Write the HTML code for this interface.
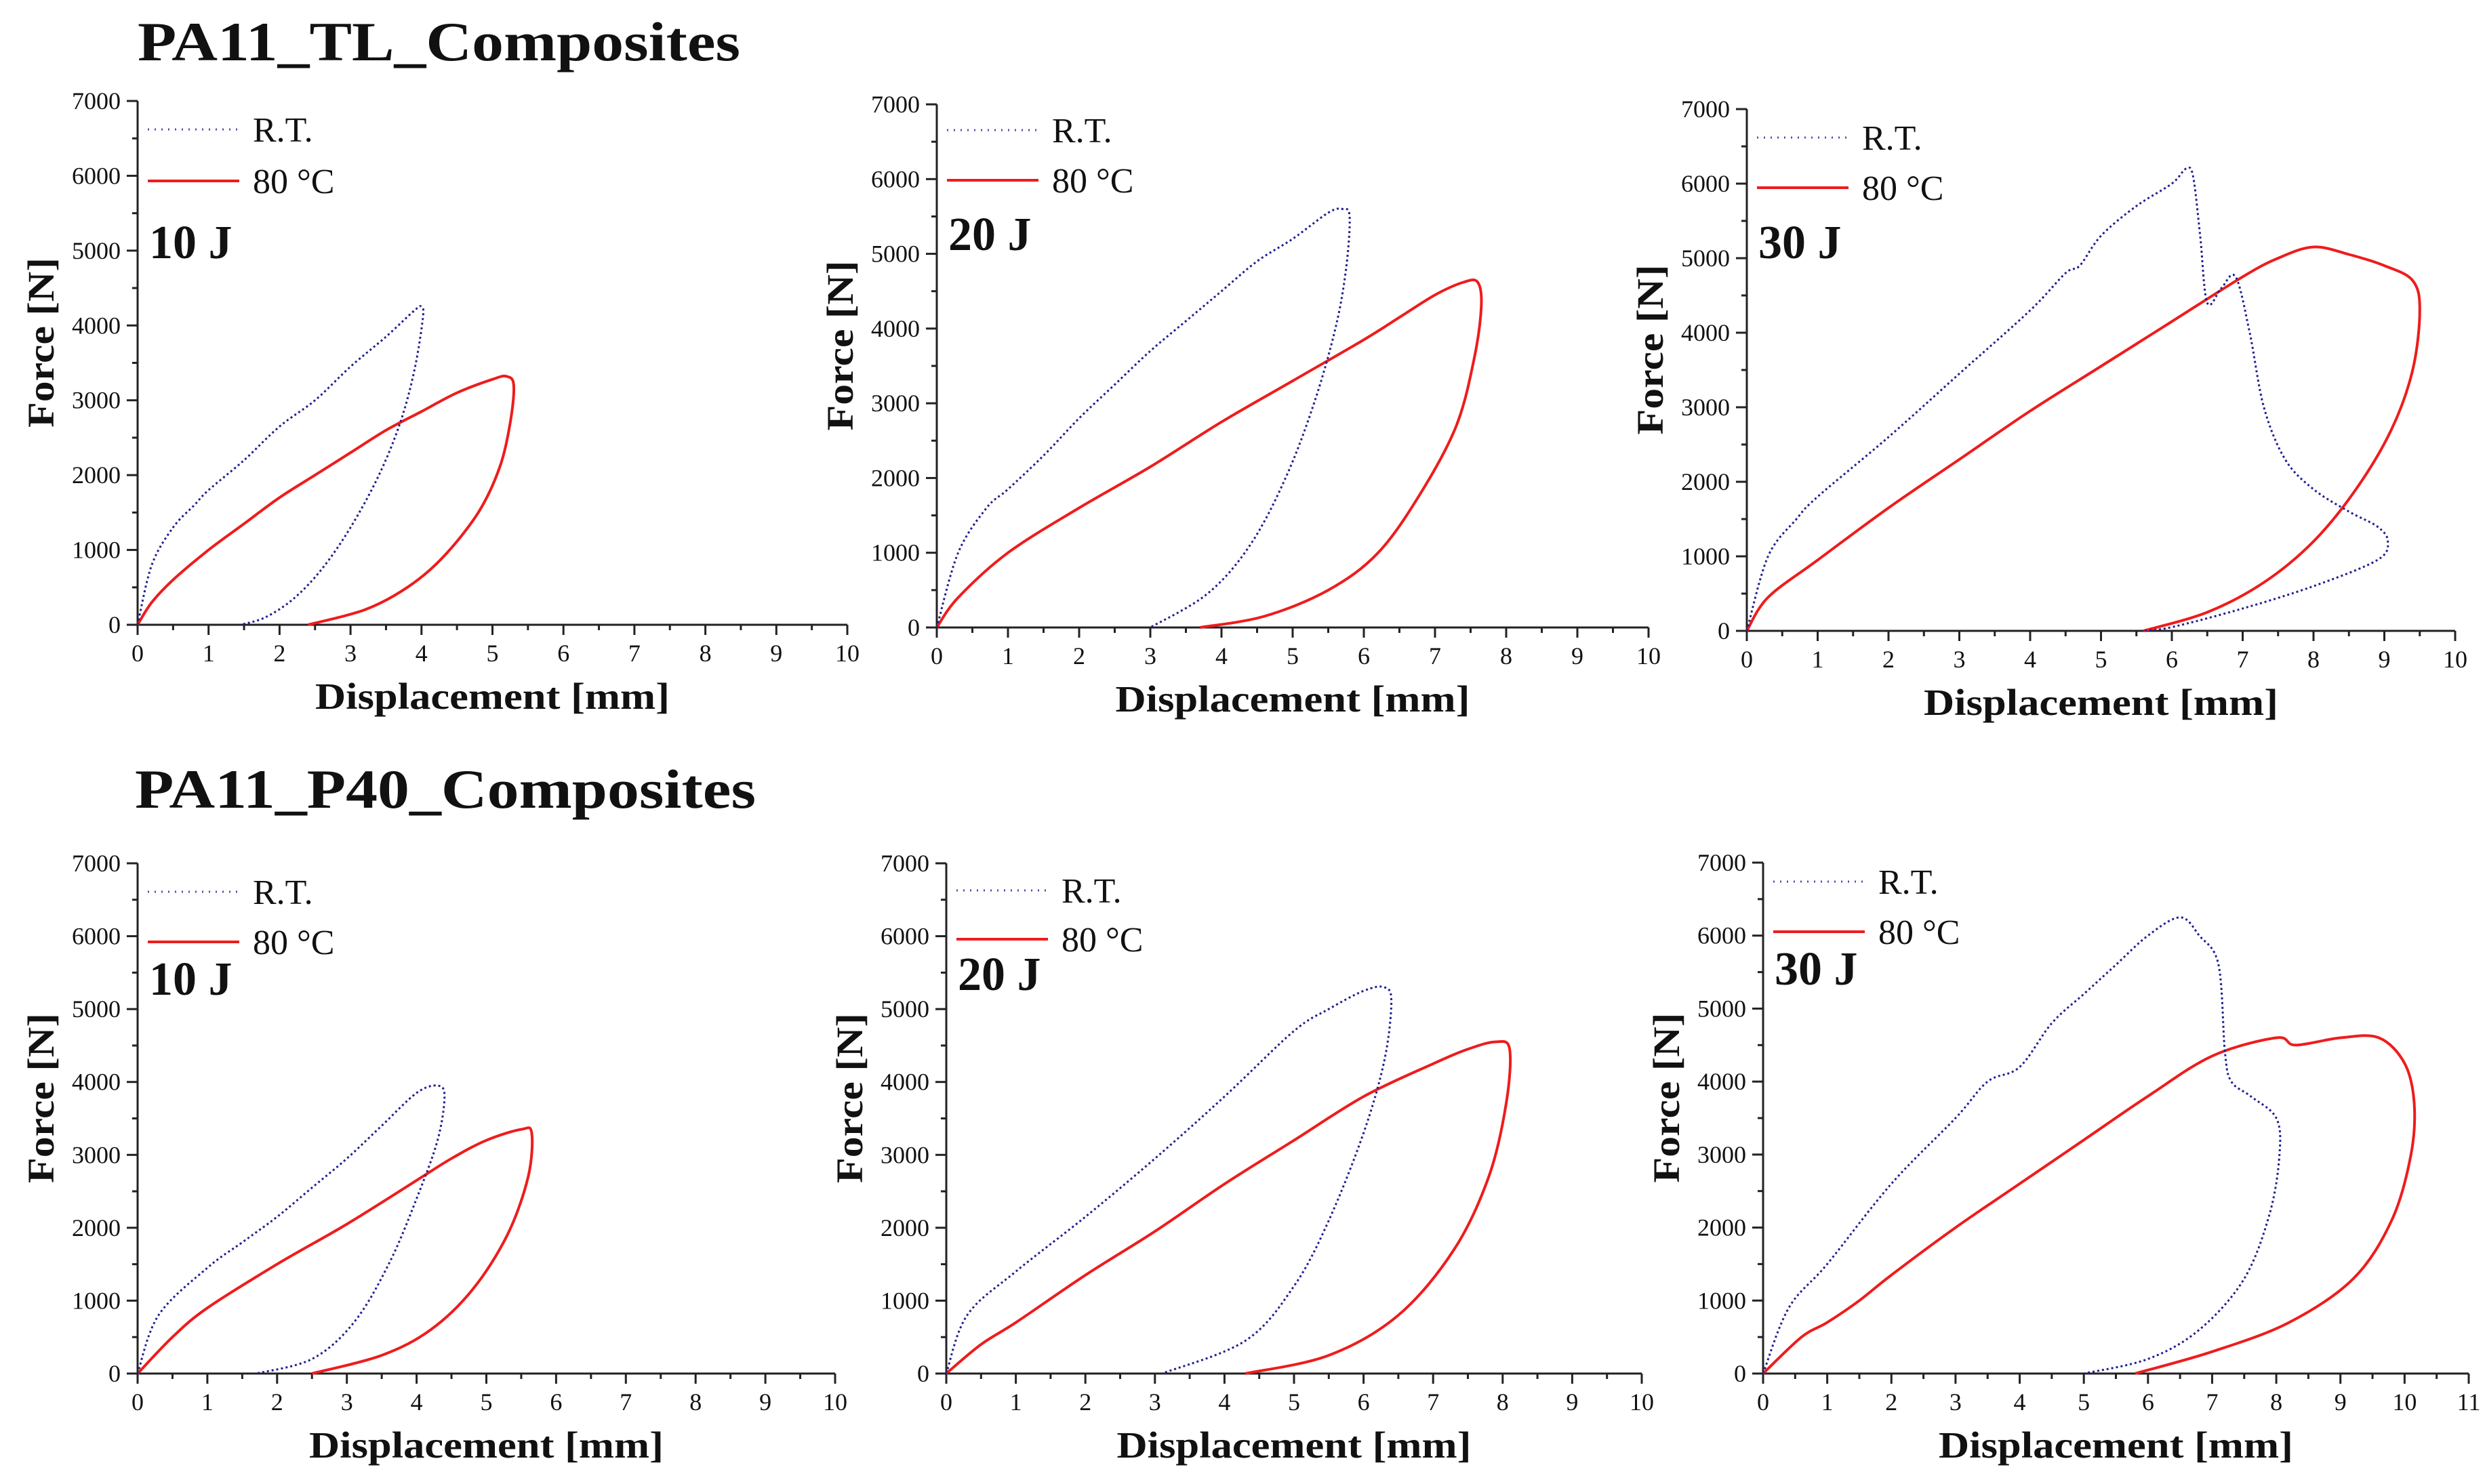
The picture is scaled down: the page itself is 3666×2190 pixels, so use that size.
<!DOCTYPE html>
<html><head><meta charset="utf-8"><style>
html,body{margin:0;padding:0;background:#fff;}
svg{display:block;}
text{font-family:"Liberation Serif",serif;fill:#111;}
</style></head><body>
<svg id="fig" width="3666" height="2190" viewBox="0 0 3666 2190" xmlns="http://www.w3.org/2000/svg">
<text x="203" y="89" font-size="82" font-weight="bold" textLength="889" lengthAdjust="spacingAndGlyphs">PA11_TL_Composites</text>
<text x="199" y="1192" font-size="82" font-weight="bold" textLength="916" lengthAdjust="spacingAndGlyphs">PA11_P40_Composites</text>
</svg>
<script>
// ---- data ----
const panelEnergies = ["10 J","20 J","30 J","10 J","20 J","30 J"];
const xMaxes = [10,10,10,10,10,11];
const yTicks = [0,1000,2000,3000,4000,5000,6000,7000];
const rtX1 = [0,0.2,0.5,0.8,1,1.5,2,2.5,3,3.5,3.9,4.0,4.02,3.9,3.7,3.4,3.0,2.6,2.2,1.8,1.45];
const rtY1 = [0,800,1300,1600,1800,2200,2650,3000,3450,3850,4200,4250,4100,3400,2700,2000,1300,750,350,100,0];
const hotX1 = [0,0.2,0.5,1,1.5,2,2.5,3,3.5,4,4.5,5,5.2,5.3,5.25,5.1,4.8,4.3,3.8,3.2,2.4];
const hotY1 = [0,300,600,1000,1350,1700,2000,2300,2600,2850,3100,3280,3320,3200,2700,2100,1500,900,500,200,0];
const rtX2 = [0,0.3,0.7,1,1.5,2,2.5,3,3.5,4,4.5,5,5.5,5.7,5.8,5.75,5.6,5.3,4.9,4.4,3.8,3];
const rtY2 = [0,1000,1600,1850,2300,2800,3250,3700,4100,4500,4900,5200,5550,5600,5500,4800,4000,3000,2000,1100,450,0];
const hotX2 = [0,0.3,1,2,3,4,5,6,6.5,7,7.4,7.6,7.65,7.55,7.3,6.8,6.2,5.5,4.6,3.7];
const hotY2 = [0,400,1000,1600,2150,2750,3300,3850,4150,4450,4620,4620,4300,3600,2700,1800,1000,500,150,0];
const rtX3 = [0,0.3,0.7,1,2,3,4,4.5,4.7,5,5.5,6,6.2,6.3,6.4,6.5,6.7,6.9,7.1,7.3,7.6,8,8.5,8.9,9.05,8.9,8,7,6,5.6];
const rtY3 = [0,1000,1500,1800,2600,3450,4300,4800,4900,5300,5700,6000,6200,6100,5300,4400,4600,4750,4000,3000,2300,1900,1600,1400,1200,950,600,300,50,0];
const hotX3 = [0,0.3,1,2,3,4,5,6,7,7.5,8,8.5,9,9.4,9.5,9.4,9.1,8.6,8,7.3,6.5,5.6];
const hotY3 = [0,450,950,1650,2300,2950,3550,4150,4750,5000,5150,5050,4900,4700,4300,3500,2700,1900,1200,650,250,0];
const rtX4 = [0,0.3,1,1.5,2,2.5,3,3.5,4,4.3,4.4,4.3,4.0,3.6,3.1,2.5,1.7];
const rtY4 = [0,800,1450,1800,2150,2550,2950,3400,3850,3950,3800,3200,2400,1500,700,200,0];
const hotX4 = [0,0.5,1,2,3,4,4.5,5,5.5,5.65,5.6,5.3,4.8,4.2,3.5,2.5];
const hotY4 = [0,500,900,1500,2050,2650,2950,3200,3350,3300,2700,1900,1150,600,250,0];
const rtX5 = [0,0.3,1,2,3,4,5,5.5,6,6.3,6.4,6.3,6,5.5,5,4.3,3.1];
const rtY5 = [0,800,1400,2150,2950,3800,4700,5000,5250,5300,5100,4300,3300,2100,1200,450,0];
const hotX5 = [0,0.5,1,2,3,4,5,6,7,7.5,7.9,8.1,8.05,7.8,7.3,6.5,5.5,4.3];
const hotY5 = [0,400,700,1350,1950,2600,3200,3800,4250,4450,4550,4450,3700,2700,1700,800,250,0];
const rtX6 = [0,0.4,1,2,3,3.5,4,4.5,5,5.5,6,6.5,6.8,7.1,7.2,7.3,7.6,8,8.05,7.9,7.5,6.8,6,5];
const rtY6 = [0,900,1500,2600,3500,4000,4200,4800,5200,5600,6000,6250,6000,5600,4400,4000,3800,3500,3000,2200,1300,600,200,0];
const hotX6 = [0,0.6,1,1.5,2,3,4,5,6,7,8,8.3,9,9.6,10,10.15,10.1,9.8,9.2,8.2,7,5.8];
const hotY6 = [0,500,700,1000,1350,2000,2600,3200,3800,4350,4600,4500,4600,4600,4250,3700,3000,2100,1300,700,300,0];

const rtXs=[rtX1,rtX2,rtX3,rtX4,rtX5,rtX6], rtYs=[rtY1,rtY2,rtY3,rtY4,rtY5,rtY6];
const hotXs=[hotX1,hotX2,hotX3,hotX4,hotX5,hotX6], hotYs=[hotY1,hotY2,hotY3,hotY4,hotY5,hotY6];

// ---- layout ----
const boxes=[
 {x0:203,x1:1250,y0:922,y1:149,leg1:42,leg2:118,eLab:232},
 {x0:1382,x1:2432,y0:926,y1:154,leg1:38,leg2:112,eLab:215},
 {x0:2577,x1:3622,y0:931,y1:161,leg1:42,leg2:116,eLab:220},
 {x0:203,x1:1232,y0:2027,y1:1274,leg1:42,leg2:116,eLab:194},
 {x0:1396,x1:2422,y0:2027,y1:1274,leg1:40,leg2:112,eLab:187},
 {x0:2601,x1:3642,y0:2027,y1:1273,leg1:28,leg2:102,eLab:180}
];
const NS="http://www.w3.org/2000/svg";
const svg=document.getElementById('fig');
function mk(tag,attrs,parent){const e=document.createElementNS(NS,tag);for(const k in attrs)e.setAttribute(k,attrs[k]);(parent||svg).appendChild(e);return e;}
function smoothPath(P){
  let d='M'+P[0][0].toFixed(1)+','+P[0][1].toFixed(1);
  for(let i=0;i<P.length-1;i++){
    const p0=P[Math.max(i-1,0)],p1=P[i],p2=P[i+1],p3=P[Math.min(i+2,P.length-1)];
    const c1=[p1[0]+(p2[0]-p0[0])/6,p1[1]+(p2[1]-p0[1])/6];
    const c2=[p2[0]-(p3[0]-p1[0])/6,p2[1]-(p3[1]-p1[1])/6];
    d+=' C'+c1[0].toFixed(1)+','+c1[1].toFixed(1)+' '+c2[0].toFixed(1)+','+c2[1].toFixed(1)+' '+p2[0].toFixed(1)+','+p2[1].toFixed(1);
  }
  return d;
}

boxes.forEach((b,i)=>{
  const g=mk('g',{});
  
  
  const xm=xMaxes[i];
  const sx=v=>b.x0+(b.x1-b.x0)*v/xm;
  const sy=v=>b.y0+(b.y1-b.y0)*v/7000;
  const ya=mk('line',{x1:b.x0,y1:b.y0,x2:b.x0,y2:b.y1,stroke:'#222','stroke-width':3},g);
  
  
  const xa=mk('line',{x1:b.x0,y1:b.y0,x2:b.x1,y2:b.y0,stroke:'#222','stroke-width':3},g);
  
  
  yTicks.forEach((t,k)=>{
    mk('line',{x1:b.x0-16,y1:sy(t),x2:b.x0,y2:sy(t),stroke:'#222','stroke-width':3},g);
    if(k<yTicks.length-1) mk('line',{x1:b.x0-8,y1:sy(t+500),x2:b.x0,y2:sy(t+500),stroke:'#222','stroke-width':3},g);
    const tl=mk('text',{x:b.x0-25,y:sy(t)+12,'font-size':36,'text-anchor':'end'},g);
    
    
    tl.textContent=t;
  });
  for(let v=0;v<=xm;v++){
    mk('line',{x1:sx(v),y1:b.y0,x2:sx(v),y2:b.y0+15,stroke:'#222','stroke-width':3},g);
    if(v<xm) mk('line',{x1:sx(v+0.5),y1:b.y0,x2:sx(v+0.5),y2:b.y0+8,stroke:'#222','stroke-width':3},g);
    const tl=mk('text',{x:sx(v),y:b.y0+54,'font-size':36,'text-anchor':'middle'},g);
    
    
    tl.textContent=v;
  }
  const xt=mk('text',{x:(b.x0+b.x1)/2,y:b.y0+124,'font-size':55,'font-weight':'bold','text-anchor':'middle',textLength:523,lengthAdjust:'spacingAndGlyphs'},g);
  
  
  xt.textContent='Displacement [mm]';
  const cy=(b.y0+b.y1)/2-30;
  const yt=mk('text',{x:b.x0-124,y:cy,'font-size':55,'font-weight':'bold','text-anchor':'middle',transform:`rotate(-90 ${b.x0-124} ${cy})`,textLength:251,lengthAdjust:'spacingAndGlyphs'},g);
  
  
  yt.textContent='Force [N]';
  const pts=(xs,ys)=>xs.map((x,k)=>[sx(x),sy(ys[k])]);
  const hot=mk('path',{d:smoothPath(pts(hotXs[i],hotYs[i])),fill:'none',stroke:'#ee1c1c','stroke-width':4,'stroke-linejoin':'round'},g);
  
  
  const rt=mk('path',{d:smoothPath(pts(rtXs[i],rtYs[i])),fill:'none',stroke:'#1f1f8f','stroke-width':3,'stroke-dasharray':'3 4','stroke-linejoin':'round'},g);
  
  
  const l1=mk('line',{x1:b.x0+15,y1:b.y1+b.leg1,x2:b.x0+150,y2:b.y1+b.leg1,stroke:'#4a4ab0','stroke-width':3,'stroke-dasharray':'2 8'},g);
  
  
  const t1=mk('text',{x:b.x0+170,y:b.y1+b.leg1+18,'font-size':52},g);
  
  
  t1.textContent='R.T.';
  const l2=mk('line',{x1:b.x0+15,y1:b.y1+b.leg2,x2:b.x0+150,y2:b.y1+b.leg2,stroke:'#ee1c1c','stroke-width':4},g);
  
  
  const t2=mk('text',{x:b.x0+170,y:b.y1+b.leg2+18,'font-size':52},g);
  
  
  t2.textContent='80 °C';
  const en=mk('text',{x:b.x0+17,y:b.y1+b.eLab,'font-size':70,'font-weight':'bold'},g);
  
  
  en.textContent=panelEnergies[i];
});
</script>
</body></html>
